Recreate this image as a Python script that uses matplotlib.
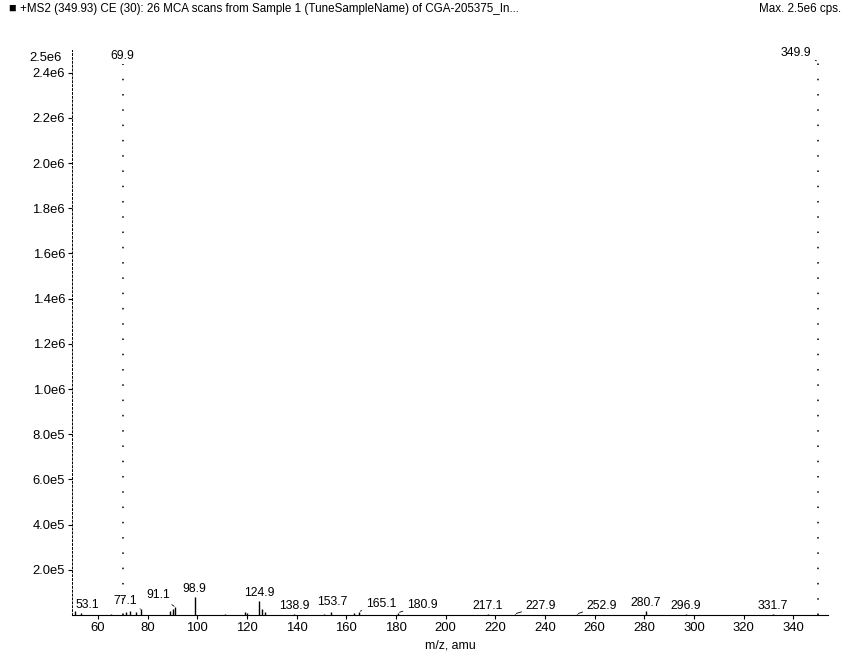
import matplotlib

matplotlib.use("Agg")
import matplotlib.pyplot as plt
import numpy as np
from matplotlib.ticker import FuncFormatter

plt.rcParams["font.family"] = ["Liberation Sans", "DejaVu Sans"]

title = "+MS2 (349.93) CE (30): 26 MCA scans from Sample 1 (TuneSampleName) of CGA-205375_In..."
max_text = "Max. 2.5e6 cps."

# centroid peaks, m/z and intensity (cps)
peak_mz = [50.9, 53.1, 65.1, 69.9, 71.1, 73.0, 75.1, 77.1, 89.1, 90.1, 91.1, 98.9,
           111.0, 119.0, 120.1, 124.9, 126.0, 127.1, 138.9, 151.0, 153.7, 163.0, 165.1,
           180.9, 217.1, 227.9, 252.9, 280.7, 296.9, 331.7, 349.9]
peak_int = [1.8e4, 8e3, 6e3, 2.44e6, 1.5e4, 1.8e4, 1.4e4, 2.6e4, 1.6e4, 2.8e4, 3.5e4, 7.9e4,
            5e3, 1.2e4, 8e3, 6.4e4, 2.8e4, 1.2e4, 6e3, 6e3, 1.2e4, 8e3, 1.5e4,
            1e4, 5e3, 5e3, 5e3, 1.8e4, 5e3, 4e3, 2.45e6]

labelled = [53.1, 69.9, 77.1, 91.1, 98.9, 124.9, 138.9, 153.7, 165.1, 180.9,
            217.1, 227.9, 252.9, 280.7, 296.9, 331.7, 349.9]

y_ticks = [2e5, 4e5, 6e5, 8e5, 1e6, 1.2e6, 1.4e6, 1.6e6, 1.8e6, 2.0e6, 2.2e6, 2.4e6]
x_ticks = [60, 80, 100, 120, 140, 160, 180, 200, 220, 240, 260, 280, 300, 320, 340]

# label nudges in pixels (dx, dy) where the text sits beside its peak
label_shift = {53.1: (6, 0), 77.1: (-15, 0), 91.1: (-17, 4), 153.7: (2, 2),
               165.1: (22, 0), 180.9: (24, 0), 227.9: (26, 0), 252.9: (25, 0),
               349.9: (-22, 0)}


def sci_label(v, pos=None):
    mant, exp = f"{v:.1e}".split("e")
    return f"{mant}e{int(exp)}"


fig = plt.figure(figsize=(8.46, 6.54), dpi=100)
ax = fig.add_axes([72 / 846, 39 / 654, 756 / 846, 565 / 654])

big = [i for i, v in enumerate(peak_int) if v > 1e6]
small = [i for i, v in enumerate(peak_int) if v <= 1e6]
ax.vlines([peak_mz[i] for i in small], 0, [peak_int[i] for i in small],
          color="black", lw=1.0)
ax.vlines([peak_mz[i] for i in big], 0, [peak_int[i] for i in big],
          color="black", lw=1.1, linestyles=[(0, (1, 9))])

for mz in labelled:
    inten = peak_int[peak_mz.index(mz)]
    dx, dy = label_shift.get(mz, (0, 0))
    leader = None
    if mz in label_shift and abs(dx) > 10:
        leader = dict(arrowstyle="-", lw=0.6, color="black", shrinkA=1, shrinkB=1)
    ax.annotate(f"{mz:.1f}", xy=(mz, inten), xytext=(dx, 2 + dy),
                textcoords="offset pixels", ha="center", va="bottom", fontsize=8.8,
                arrowprops=leader, annotation_clip=False)

ax.set_xlim(49.5, 354)
ax.set_ylim(0, 2.5e6)
ax.set_xticks(x_ticks)
ax.set_yticks(y_ticks)
ax.yaxis.set_major_formatter(FuncFormatter(sci_label))
ax.tick_params(axis="both", labelsize=9.4, length=3, width=0.8, pad=2)
ax.text(-0.014, 2.465e6, "2.5e6", transform=ax.get_yaxis_transform(),
        ha="right", va="center", fontsize=9.4)

for side in ("top", "right"):
    ax.spines[side].set_visible(False)
ax.spines["left"].set_linestyle((0, (2, 2)))
ax.spines["left"].set_linewidth(0.7)
ax.spines["bottom"].set_linewidth(0.8)

ax.set_xlabel("m/z, amu", fontsize=8.8, labelpad=4)

fig.text(8 / 846, 1 - 9 / 654, "\u25a0", fontsize=9, va="center", ha="left")
fig.text(20 / 846, 1 - 9 / 654, title, fontsize=8.4, va="center", ha="left")
fig.text(841 / 846, 1 - 9 / 654, max_text, fontsize=8.4, va="center", ha="right")

fig.savefig("out.png", dpi=100)
plt.close(fig)
